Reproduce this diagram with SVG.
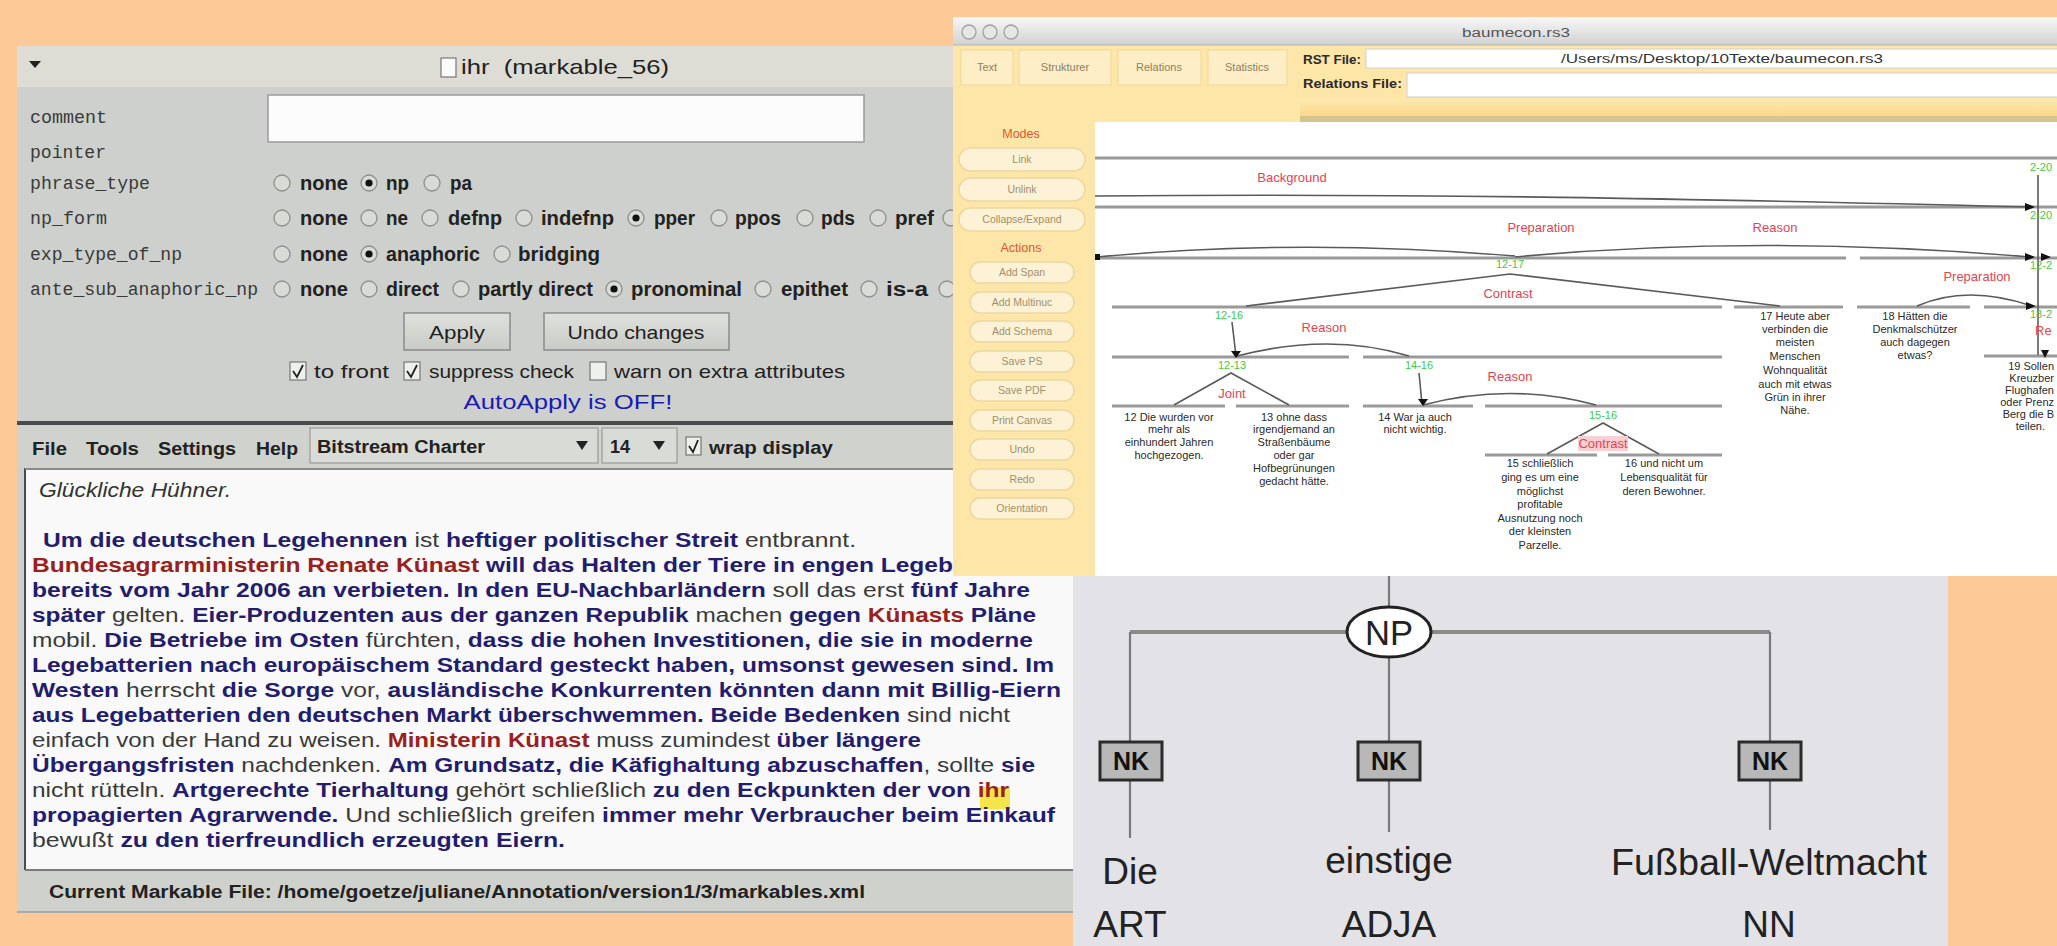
<svg xmlns="http://www.w3.org/2000/svg" width="2057" height="946" viewBox="0 0 2057 946">
<defs>
<linearGradient id="tbg" x1="0" y1="0" x2="0" y2="1"><stop offset="0" stop-color="#f7f7f7"/><stop offset="1" stop-color="#d2d2d2"/></linearGradient>
<linearGradient id="gold" x1="0" y1="0" x2="0" y2="1"><stop offset="0" stop-color="#fde8b0"/><stop offset="1" stop-color="#fbd98a"/></linearGradient>
<linearGradient id="btn" x1="0" y1="0" x2="0" y2="1"><stop offset="0" stop-color="#dfe1dd"/><stop offset="1" stop-color="#c9cbc7"/></linearGradient>
</defs>
<style>
.sans{font-family:"Liberation Sans",Arial,sans-serif}
.mono{font-family:"Liberation Mono","Courier New",monospace;font-size:18px;fill:#3a3a3a}
.opt{font-family:"Liberation Sans",Arial,sans-serif;font-weight:bold;font-size:20px;fill:#222}
.reg{font-family:"Liberation Sans",Arial,sans-serif;font-size:19px;fill:#222}
.rad{fill:#d9dbd7;stroke:#8d8f8b;stroke-width:1.3}
.dot{fill:#111}
.chk{fill:#eef0ec;stroke:#777;stroke-width:1.2}
.tick{fill:none;stroke:#222;stroke-width:1.8}
.tx{font-family:"Liberation Sans",Arial,sans-serif;font-size:20px}
.m{font-weight:bold;fill:#241c6c}
.r{font-weight:bold;fill:#9b2020}
.n{fill:#3a3a3a}
.tab{fill:#fdeec6;stroke:#ecd89c;stroke-width:1}
.tabt{font-family:"Liberation Sans",Arial,sans-serif;font-size:11px;fill:#8f7f60;text-anchor:middle}
.pill{fill:#fdf2d6;stroke:#ead7a2;stroke-width:1.5}
.pillt{font-family:"Liberation Sans",Arial,sans-serif;font-size:10.5px;fill:#a0906c;text-anchor:middle}
.hdr{font-family:"Liberation Sans",Arial,sans-serif;font-size:12.5px;fill:#e0562c;text-anchor:middle}
.span{stroke:#9a9a9a;stroke-width:3;fill:none}
.arc{stroke:#5a5a5a;stroke-width:1.6;fill:none}
.rel{font-family:"Liberation Sans",Arial,sans-serif;font-size:13px;fill:#e4434f;text-anchor:middle}
.grn{font-family:"Liberation Sans",Arial,sans-serif;font-size:11px;fill:#45c845;text-anchor:middle}
.seg{font-family:"Liberation Sans",Arial,sans-serif;font-size:11px;fill:#2a2a2a;text-anchor:middle}
.ah{fill:#111}
.edge{stroke:#7a7a7a;stroke-width:2.2;fill:none}
.nk{fill:#b8b8b8;stroke:#2b2b2b;stroke-width:3}
.nkt{font-family:"Liberation Sans",Arial,sans-serif;font-weight:bold;font-size:25px;fill:#111;text-anchor:middle}
.word{font-family:"Liberation Sans",Arial,sans-serif;font-size:37px;fill:#222;text-anchor:middle}
.end{text-anchor:end}
.start{text-anchor:start}
</style>

<rect x="0" y="0" width="2057" height="946" fill="#fdc997"/>

<!-- MMAX attribute window + text window -->
<g id="mmax-window">
<rect x="17" y="46" width="1056" height="867" fill="#cdd0cc"/>
<rect x="17" y="46" width="936" height="41" fill="#dddcd5"/>
<path d="M29,61 L41,61 L35,68 Z" fill="#222"/>
<rect x="441" y="58" width="15" height="19" fill="#fbfbfb" stroke="#777" stroke-width="1.2"/>
<text x="461" y="74" class="sans" font-size="21" fill="#222" textLength="208" lengthAdjust="spacingAndGlyphs">ihr&#160; (markable_56)</text>

<text x="30" y="123" class="mono" textLength="77" lengthAdjust="spacingAndGlyphs">comment</text>
<text x="30" y="158" class="mono" textLength="76" lengthAdjust="spacingAndGlyphs">pointer</text>
<text x="30" y="189" class="mono" textLength="120" lengthAdjust="spacingAndGlyphs">phrase_type</text>
<text x="30" y="224" class="mono" textLength="77" lengthAdjust="spacingAndGlyphs">np_form</text>
<text x="30" y="260" class="mono" textLength="152" lengthAdjust="spacingAndGlyphs">exp_type_of_np</text>
<text x="30" y="295" class="mono" textLength="228" lengthAdjust="spacingAndGlyphs">ante_sub_anaphoric_np</text>
<rect x="268" y="95" width="596" height="47" fill="#fbfcfb" stroke="#9a9a9a" stroke-width="1.5"/>

<!-- phrase_type -->
<circle class="rad" cx="282" cy="183" r="8"/><text class="opt" x="300" y="190" textLength="48" lengthAdjust="spacingAndGlyphs">none</text>
<circle class="rad" cx="369" cy="183" r="8"/><circle class="dot" cx="369" cy="183" r="3.6"/><text class="opt" x="386" y="190" textLength="23" lengthAdjust="spacingAndGlyphs">np</text>
<circle class="rad" cx="432" cy="183" r="8"/><text class="opt" x="450" y="190" textLength="22" lengthAdjust="spacingAndGlyphs">pa</text>
<!-- np_form -->
<circle class="rad" cx="282" cy="218" r="8"/><text class="opt" x="300" y="225" textLength="48" lengthAdjust="spacingAndGlyphs">none</text>
<circle class="rad" cx="369" cy="218" r="8"/><text class="opt" x="386" y="225" textLength="22" lengthAdjust="spacingAndGlyphs">ne</text>
<circle class="rad" cx="430" cy="218" r="8"/><text class="opt" x="448" y="225" textLength="54" lengthAdjust="spacingAndGlyphs">defnp</text>
<circle class="rad" cx="524" cy="218" r="8"/><text class="opt" x="541" y="225" textLength="73" lengthAdjust="spacingAndGlyphs">indefnp</text>
<circle class="rad" cx="636" cy="218" r="8"/><circle class="dot" cx="636" cy="218" r="3.6"/><text class="opt" x="654" y="225" textLength="41" lengthAdjust="spacingAndGlyphs">pper</text>
<circle class="rad" cx="719" cy="218" r="8"/><text class="opt" x="735" y="225" textLength="46" lengthAdjust="spacingAndGlyphs">ppos</text>
<circle class="rad" cx="805" cy="218" r="8"/><text class="opt" x="821" y="225" textLength="34" lengthAdjust="spacingAndGlyphs">pds</text>
<circle class="rad" cx="878" cy="218" r="8"/><text class="opt" x="895" y="225" textLength="39" lengthAdjust="spacingAndGlyphs">pref</text>
<circle class="rad" cx="951" cy="218" r="8"/>
<!-- exp_type_of_np -->
<circle class="rad" cx="282" cy="254" r="8"/><text class="opt" x="300" y="261" textLength="48" lengthAdjust="spacingAndGlyphs">none</text>
<circle class="rad" cx="369" cy="254" r="8"/><circle class="dot" cx="369" cy="254" r="3.6"/><text class="opt" x="386" y="261" textLength="94" lengthAdjust="spacingAndGlyphs">anaphoric</text>
<circle class="rad" cx="502" cy="254" r="8"/><text class="opt" x="518" y="261" textLength="82" lengthAdjust="spacingAndGlyphs">bridging</text>
<!-- ante_sub_anaphoric_np -->
<circle class="rad" cx="282" cy="289" r="8"/><text class="opt" x="300" y="296" textLength="48" lengthAdjust="spacingAndGlyphs">none</text>
<circle class="rad" cx="369" cy="289" r="8"/><text class="opt" x="386" y="296" textLength="53" lengthAdjust="spacingAndGlyphs">direct</text>
<circle class="rad" cx="461" cy="289" r="8"/><text class="opt" x="478" y="296" textLength="115" lengthAdjust="spacingAndGlyphs">partly direct</text>
<circle class="rad" cx="614" cy="289" r="8"/><circle class="dot" cx="614" cy="289" r="3.6"/><text class="opt" x="631" y="296" textLength="111" lengthAdjust="spacingAndGlyphs">pronominal</text>
<circle class="rad" cx="763" cy="289" r="8"/><text class="opt" x="781" y="296" textLength="67" lengthAdjust="spacingAndGlyphs">epithet</text>
<circle class="rad" cx="869" cy="289" r="8"/><text class="opt" x="886" y="296" textLength="42" lengthAdjust="spacingAndGlyphs">is-a</text>
<circle class="rad" cx="947" cy="289" r="8"/>

<rect x="404" y="313" width="106" height="37" fill="url(#btn)" stroke="#8a8a8a" stroke-width="1.5"/>
<text x="457" y="339" class="reg" text-anchor="middle" textLength="56" lengthAdjust="spacingAndGlyphs">Apply</text>
<rect x="544" y="313" width="185" height="37" fill="url(#btn)" stroke="#8a8a8a" stroke-width="1.5"/>
<text x="636" y="339" class="reg" text-anchor="middle" textLength="137" lengthAdjust="spacingAndGlyphs">Undo changes</text>

<rect class="chk" x="290" y="362" width="16" height="18"/><path class="tick" d="M293,371 L297,377 L303,365"/>
<text x="314" y="378" class="reg" textLength="75" lengthAdjust="spacingAndGlyphs">to front</text>
<rect class="chk" x="404" y="362" width="16" height="18"/><path class="tick" d="M407,371 L411,377 L417,365"/>
<text x="429" y="378" class="reg" textLength="145" lengthAdjust="spacingAndGlyphs">suppress check</text>
<rect class="chk" x="590" y="362" width="16" height="18"/>
<text x="614" y="378" class="reg" textLength="231" lengthAdjust="spacingAndGlyphs">warn on extra attributes</text>
<text x="568" y="409" class="sans" font-size="20" fill="#1c1cb4" text-anchor="middle" textLength="209" lengthAdjust="spacingAndGlyphs">AutoApply is OFF!</text>

<rect x="17" y="421" width="1056" height="4" fill="#4a4a4a"/>
<rect x="17" y="425" width="1056" height="43" fill="#d0d2ce"/>
<text x="32" y="455" class="sans" font-size="19" font-weight="bold" fill="#222" textLength="35" lengthAdjust="spacingAndGlyphs">File</text>
<text x="86" y="455" class="sans" font-size="19" font-weight="bold" fill="#222" textLength="53" lengthAdjust="spacingAndGlyphs">Tools</text>
<text x="158" y="455" class="sans" font-size="19" font-weight="bold" fill="#222" textLength="78" lengthAdjust="spacingAndGlyphs">Settings</text>
<text x="256" y="455" class="sans" font-size="19" font-weight="bold" fill="#222" textLength="42" lengthAdjust="spacingAndGlyphs">Help</text>
<rect x="310" y="428" width="288" height="35" fill="#d9dbd7" stroke="#9a9a9a" stroke-width="1.2"/>
<text x="317" y="453" class="sans" font-size="18" font-weight="bold" fill="#222" textLength="168" lengthAdjust="spacingAndGlyphs">Bitstream Charter</text>
<path d="M576,441 L588,441 L582,450 Z" fill="#222"/>
<rect x="602" y="428" width="75" height="35" fill="#d9dbd7" stroke="#9a9a9a" stroke-width="1.2"/>
<text x="610" y="453" class="sans" font-size="18" font-weight="bold" fill="#222">14</text>
<path d="M653,441 L665,441 L659,450 Z" fill="#222"/>
<rect class="chk" x="686" y="437" width="15" height="18"/><path class="tick" d="M689,446 L693,452 L698,440"/>
<text x="709" y="454" class="sans" font-size="19" font-weight="bold" fill="#222" textLength="124" lengthAdjust="spacingAndGlyphs">wrap display</text>

<rect x="25" y="468" width="1048" height="402" fill="#f8f9f8"/>
<line x1="25" y1="468" x2="25" y2="912" stroke="#4a4a4a" stroke-width="2"/>
<line x1="25" y1="469" x2="1073" y2="469" stroke="#8a8a8a" stroke-width="2"/>
<text x="39" y="497" class="sans" font-size="20" font-style="italic" fill="#333" textLength="192" lengthAdjust="spacingAndGlyphs">Glückliche Hühner.</text>

<rect x="980" y="787" width="30" height="22" fill="#f4e64a"/>
<text class="tx" x="43" y="547" textLength="813" lengthAdjust="spacingAndGlyphs"><tspan class="m">Um die deutschen Legehennen</tspan><tspan class="n"> ist </tspan><tspan class="m">heftiger politischer Streit</tspan><tspan class="n"> entbrannt.</tspan></text>
<text class="tx" x="32" y="572" textLength="921" lengthAdjust="spacingAndGlyphs"><tspan class="r">Bundesagrarministerin Renate Künast</tspan><tspan class="m"> will das Halten der Tiere in engen Legeb</tspan></text>
<text class="tx" x="32" y="597" textLength="998" lengthAdjust="spacingAndGlyphs"><tspan class="m">bereits vom Jahr 2006 an verbieten. In den EU-Nachbarländern</tspan><tspan class="n"> soll das erst </tspan><tspan class="m">fünf Jahre</tspan></text>
<text class="tx" x="32" y="622" textLength="1004" lengthAdjust="spacingAndGlyphs"><tspan class="m">später</tspan><tspan class="n"> gelten. </tspan><tspan class="m">Eier-Produzenten aus der ganzen Republik</tspan><tspan class="n"> machen </tspan><tspan class="m">gegen </tspan><tspan class="r">Künasts</tspan><tspan class="m"> Pläne</tspan></text>
<text class="tx" x="32" y="647" textLength="1001" lengthAdjust="spacingAndGlyphs"><tspan class="n">mobil. </tspan><tspan class="m">Die Betriebe im Osten</tspan><tspan class="n"> fürchten, </tspan><tspan class="m">dass die hohen Investitionen, die sie in moderne</tspan></text>
<text class="tx" x="32" y="672" textLength="1022" lengthAdjust="spacingAndGlyphs"><tspan class="m">Legebatterien nach europäischem Standard gesteckt haben, umsonst gewesen sind. Im</tspan></text>
<text class="tx" x="32" y="697" textLength="1029" lengthAdjust="spacingAndGlyphs"><tspan class="m">Westen</tspan><tspan class="n"> herrscht </tspan><tspan class="m">die Sorge</tspan><tspan class="n"> vor, </tspan><tspan class="m">ausländische Konkurrenten könnten dann mit Billig-Eiern</tspan></text>
<text class="tx" x="32" y="722" textLength="978" lengthAdjust="spacingAndGlyphs"><tspan class="m">aus Legebatterien den deutschen Markt überschwemmen. Beide Bedenken</tspan><tspan class="n"> sind nicht</tspan></text>
<text class="tx" x="32" y="747" textLength="889" lengthAdjust="spacingAndGlyphs"><tspan class="n">einfach von der Hand zu weisen. </tspan><tspan class="r">Ministerin Künast</tspan><tspan class="n"> muss zumindest </tspan><tspan class="m">über längere</tspan></text>
<text class="tx" x="32" y="772" textLength="1003" lengthAdjust="spacingAndGlyphs"><tspan class="m">Übergangsfristen</tspan><tspan class="n"> nachdenken. </tspan><tspan class="m">Am Grundsatz, die Käfighaltung abzuschaffen</tspan><tspan class="n">, sollte </tspan><tspan class="m">sie</tspan></text>
<text class="tx" x="32" y="797" textLength="977" lengthAdjust="spacingAndGlyphs"><tspan class="n">nicht rütteln. </tspan><tspan class="m">Artgerechte Tierhaltung</tspan><tspan class="n"> gehört schließlich </tspan><tspan class="m">zu den Eckpunkten der von </tspan><tspan class="r">ihr</tspan></text>
<text class="tx" x="32" y="822" textLength="1023" lengthAdjust="spacingAndGlyphs"><tspan class="m">propagierten Agrarwende.</tspan><tspan class="n"> Und schließlich greifen </tspan><tspan class="m">immer mehr Verbraucher beim Einkauf</tspan></text>
<text class="tx" x="32" y="847" textLength="533" lengthAdjust="spacingAndGlyphs"><tspan class="n">bewußt </tspan><tspan class="m">zu den tierfreundlich erzeugten Eiern.</tspan></text>

<rect x="17" y="870" width="1056" height="43" fill="#cfd1cd"/>
<line x1="25" y1="870" x2="1073" y2="870" stroke="#7a7a7a" stroke-width="2"/>
<line x1="17" y1="912" x2="1073" y2="912" stroke="#a9aba7" stroke-width="2"/>
<text x="49" y="898" class="sans" font-size="18" font-weight="bold" fill="#222" textLength="816" lengthAdjust="spacingAndGlyphs">Current Markable File: /home/goetze/juliane/Annotation/version1/3/markables.xml</text>
</g>

<!-- RST tool window -->
<g id="rst-window">
<rect x="953" y="17" width="1104" height="559" fill="#fde6a8"/>
<rect x="953" y="17" width="1104" height="28" fill="url(#tbg)"/>
<line x1="953" y1="45" x2="2057" y2="45" stroke="#b0b0b0" stroke-width="1"/>
<circle cx="969" cy="32" r="7" fill="#e6e6e6" stroke="#a0a0a0" stroke-width="1.3"/>
<circle cx="990" cy="32" r="7" fill="#e6e6e6" stroke="#a0a0a0" stroke-width="1.3"/>
<circle cx="1011" cy="32" r="7" fill="#e6e6e6" stroke="#a0a0a0" stroke-width="1.3"/>
<text x="1516" y="37" class="sans" font-size="12.5" fill="#555" text-anchor="middle" textLength="108" lengthAdjust="spacingAndGlyphs">baumecon.rs3</text>

<rect class="tab" x="961" y="50" width="52" height="35"/><text class="tabt" x="987" y="71">Text</text>
<rect class="tab" x="1019" y="50" width="92" height="35"/><text class="tabt" x="1065" y="71">Strukturer</text>
<rect class="tab" x="1118" y="50" width="83" height="35"/><text class="tabt" x="1159" y="71">Relations</text>
<rect class="tab" x="1208" y="50" width="79" height="35"/><text class="tabt" x="1247" y="71">Statistics</text>

<text x="1303" y="64" class="sans" font-size="12" font-weight="bold" fill="#2a2a2a" textLength="58" lengthAdjust="spacingAndGlyphs">RST File:</text>
<rect x="1366" y="49" width="700" height="19" fill="#ffffff" stroke="#cfcfcf" stroke-width="1"/>
<text x="1561" y="63" class="sans" font-size="12" fill="#333" textLength="322" lengthAdjust="spacingAndGlyphs">/Users/ms/Desktop/10Texte/baumecon.rs3</text>
<text x="1303" y="88" class="sans" font-size="12" font-weight="bold" fill="#2a2a2a" textLength="99" lengthAdjust="spacingAndGlyphs">Relations File:</text>
<rect x="1407" y="73" width="660" height="24" fill="#ffffff" stroke="#cfcfcf" stroke-width="1"/>
<rect x="1300" y="99" width="757" height="17" fill="url(#gold)"/>
<rect x="1300" y="116" width="757" height="6" fill="#d6c48e"/>

<rect x="1095" y="122" width="962" height="454" fill="#ffffff"/>

<text class="hdr" x="1021" y="138">Modes</text>
<rect class="pill" x="959" y="148" width="126" height="23" rx="11.5"/><text class="pillt" x="1022" y="163">Link</text>
<rect class="pill" x="959" y="178" width="126" height="23" rx="11.5"/><text class="pillt" x="1022" y="193">Unlink</text>
<rect class="pill" x="959" y="208" width="126" height="23" rx="11.5"/><text class="pillt" x="1022" y="223">Collapse/Expand</text>
<text class="hdr" x="1021" y="252">Actions</text>
<rect class="pill" x="970" y="262" width="104" height="21" rx="10.5"/><text class="pillt" x="1022" y="276">Add Span</text>
<rect class="pill" x="970" y="292" width="104" height="21" rx="10.5"/><text class="pillt" x="1022" y="306">Add Multinuc</text>
<rect class="pill" x="970" y="321" width="104" height="21" rx="10.5"/><text class="pillt" x="1022" y="335">Add Schema</text>
<rect class="pill" x="970" y="351" width="104" height="21" rx="10.5"/><text class="pillt" x="1022" y="365">Save PS</text>
<rect class="pill" x="970" y="380" width="104" height="21" rx="10.5"/><text class="pillt" x="1022" y="394">Save PDF</text>
<rect class="pill" x="970" y="410" width="104" height="21" rx="10.5"/><text class="pillt" x="1022" y="424">Print Canvas</text>
<rect class="pill" x="970" y="439" width="104" height="21" rx="10.5"/><text class="pillt" x="1022" y="453">Undo</text>
<rect class="pill" x="970" y="469" width="104" height="21" rx="10.5"/><text class="pillt" x="1022" y="483">Redo</text>
<rect class="pill" x="970" y="498" width="104" height="21" rx="10.5"/><text class="pillt" x="1022" y="512">Orientation</text>

<!-- RST tree connectors -->
<g id="rst-connectors">
<line class="span" x1="1095" y1="158" x2="2057" y2="158"/>
<line class="span" x1="1095" y1="207" x2="2057" y2="207"/>
<line class="span" x1="1095" y1="258" x2="1846" y2="258"/>
<line class="span" x1="1860" y1="258" x2="2057" y2="258"/>
<line class="span" x1="1112" y1="307" x2="1722" y2="307"/>
<line class="span" x1="1734" y1="307" x2="1843" y2="307"/>
<line class="span" x1="1857" y1="307" x2="1970" y2="307"/>
<line class="span" x1="1984" y1="307" x2="2057" y2="307"/>
<line class="span" x1="1984" y1="356" x2="2057" y2="356"/>
<line class="span" x1="1112" y1="357" x2="1349" y2="357"/>
<line class="span" x1="1363" y1="357" x2="1722" y2="357"/>
<line class="span" x1="1112" y1="406" x2="1225" y2="406"/>
<line class="span" x1="1236" y1="406" x2="1349" y2="406"/>
<line class="span" x1="1363" y1="406" x2="1473" y2="406"/>
<line class="span" x1="1485" y1="406" x2="1722" y2="406"/>
<line class="span" x1="1485" y1="455" x2="1597" y2="455"/>
<line class="span" x1="1608" y1="455" x2="1722" y2="455"/>

<path class="arc" d="M1095,196 C1420,193 1700,199 2030,207"/>
<path class="arc" d="M1097,257 Q1300,238 1515,256"/>
<path class="arc" d="M2030,257 Q1760,234 1515,257"/>
<path class="arc" d="M1917,306 Q1967,284 2032,306"/>
<line class="arc" x1="2038" y1="175" x2="2038" y2="355"/>
<path class="arc" d="M1246,306 L1510,274 L1780,306"/>
<line class="arc" x1="1232" y1="322" x2="1236" y2="356"/>
<path class="arc" d="M1409,356 Q1330,332 1237,356"/>
<path class="arc" d="M1174,405 L1231,373 L1289,405"/>
<line class="arc" x1="1419" y1="373" x2="1422" y2="404"/>
<path class="arc" d="M1596,405 Q1510,382 1423,405"/>
<path class="arc" d="M1547,454 L1603,423 L1659,454"/>

<path class="ah" d="M2025,203 L2035,207 L2025,211 Z"/>
<path class="ah" d="M2025,253 L2035,257 L2025,261 Z"/>
<path class="ah" d="M2041,253 L2051,257 L2041,261 Z"/>
<path class="ah" d="M2026,302 L2036,306 L2026,310 Z"/>
<path class="ah" d="M2041,350 L2045,358 L2049,350 Z"/>
<rect class="ah" x="1095" y="254" width="5" height="6"/>
<path class="ah" d="M1231,351 L1241,351 L1236,358 Z"/>
<path class="ah" d="M1418,399 L1428,399 L1423,406 Z"/>
</g>

<!-- RST labels -->
<text class="rel" x="1292" y="182">Background</text>
<text class="rel" x="1541" y="232">Preparation</text>
<text class="rel" x="1775" y="232">Reason</text>
<text class="rel" x="1508" y="298">Contrast</text>
<text class="rel" x="1324" y="332">Reason</text>
<text class="rel" x="1232" y="398">Joint</text>
<text class="rel" x="1510" y="381">Reason</text>
<rect x="1578" y="436" width="50" height="15" fill="#fbd0d5"/>
<text class="rel" x="1603" y="448">Contrast</text>
<text class="rel" x="1977" y="281">Preparation</text>
<text class="rel start" x="2035" y="335">Re</text>

<text class="grn" x="2041" y="171">2-20</text>
<text class="grn" x="2041" y="219">2-20</text>
<text class="grn" x="2041" y="269">12-2</text>
<text class="grn" x="2041" y="318">18-2</text>
<text class="grn" x="1510" y="268">12-17</text>
<text class="grn" x="1229" y="319">12-16</text>
<text class="grn" x="1232" y="369">12-13</text>
<text class="grn" x="1419" y="369">14-16</text>
<text class="grn" x="1603" y="419">15-16</text>

<text class="seg" x="1169" y="421">12 Die wurden vor</text>
<text class="seg" x="1169" y="433">mehr als</text>
<text class="seg" x="1169" y="446">einhundert Jahren</text>
<text class="seg" x="1169" y="459">hochgezogen.</text>

<text class="seg" x="1294" y="421">13 ohne dass</text>
<text class="seg" x="1294" y="433">irgendjemand an</text>
<text class="seg" x="1294" y="446">Straßenbäume</text>
<text class="seg" x="1294" y="459">oder gar</text>
<text class="seg" x="1294" y="472">Hofbegrünungen</text>
<text class="seg" x="1294" y="485">gedacht hätte.</text>

<text class="seg" x="1415" y="421">14 War ja auch</text>
<text class="seg" x="1415" y="433">nicht wichtig.</text>

<text class="seg" x="1540" y="467">15 schließlich</text>
<text class="seg" x="1540" y="481">ging es um eine</text>
<text class="seg" x="1540" y="495">möglichst</text>
<text class="seg" x="1540" y="508">profitable</text>
<text class="seg" x="1540" y="522">Ausnutzung noch</text>
<text class="seg" x="1540" y="535">der kleinsten</text>
<text class="seg" x="1540" y="549">Parzelle.</text>

<text class="seg" x="1664" y="467">16 und nicht um</text>
<text class="seg" x="1664" y="481">Lebensqualität für</text>
<text class="seg" x="1664" y="495">deren Bewohner.</text>

<text class="seg" x="1795" y="320">17 Heute aber</text>
<text class="seg" x="1795" y="333">verbinden die</text>
<text class="seg" x="1795" y="346">meisten</text>
<text class="seg" x="1795" y="360">Menschen</text>
<text class="seg" x="1795" y="374">Wohnqualität</text>
<text class="seg" x="1795" y="388">auch mit etwas</text>
<text class="seg" x="1795" y="401">Grün in ihrer</text>
<text class="seg" x="1795" y="414">Nähe.</text>

<text class="seg" x="1915" y="320">18 Hätten die</text>
<text class="seg" x="1915" y="333">Denkmalschützer</text>
<text class="seg" x="1915" y="346">auch dagegen</text>
<text class="seg" x="1915" y="359">etwas?</text>

<text class="seg end" x="2054" y="370">19 Sollen</text>
<text class="seg end" x="2054" y="382">Kreuzber</text>
<text class="seg end" x="2054" y="394">Flughafen</text>
<text class="seg end" x="2054" y="406">oder Prenz</text>
<text class="seg end" x="2054" y="418">Berg die B</text>
<text class="seg end" x="2045" y="430">teilen.</text>
</g>

<!-- Syntax tree (TIGER) -->
<g id="np-tree">
<rect x="1073" y="576" width="875" height="370" fill="#e3e2e6"/>
<g id="np-edges">
<line class="edge" x1="1389" y1="576" x2="1389" y2="607"/>
<line x1="1130" y1="632" x2="1770" y2="632" stroke="#8a8a8a" stroke-width="4"/>
<line class="edge" x1="1130" y1="632" x2="1130" y2="742"/>
<line class="edge" x1="1389" y1="657" x2="1389" y2="742"/>
<line class="edge" x1="1770" y1="632" x2="1770" y2="742"/>
<line class="edge" x1="1130" y1="780" x2="1130" y2="838"/>
<line class="edge" x1="1389" y1="780" x2="1389" y2="832"/>
<line class="edge" x1="1770" y1="780" x2="1770" y2="830"/>
</g>
<g id="node-np">
<ellipse cx="1389" cy="632" rx="42" ry="25" fill="#ffffff" stroke="#222" stroke-width="3"/>
<text x="1389" y="645" class="sans" font-size="35" fill="#222" text-anchor="middle" textLength="48" lengthAdjust="spacingAndGlyphs">NP</text>
</g>
<g id="node-nk1"><rect class="nk" x="1100" y="742" width="62" height="38"/><text class="nkt" x="1131" y="770">NK</text></g>
<g id="node-nk2"><rect class="nk" x="1358" y="742" width="62" height="38"/><text class="nkt" x="1389" y="770">NK</text></g>
<g id="node-nk3"><rect class="nk" x="1739" y="742" width="62" height="38"/><text class="nkt" x="1770" y="770">NK</text></g>
<g id="word-die"><text class="word" x="1130" y="884">Die</text><text class="word" x="1130" y="937">ART</text></g>
<g id="word-einstige"><text class="word" x="1389" y="873">einstige</text><text class="word" x="1389" y="937">ADJA</text></g>
<g id="word-fussball"><text class="word" x="1769" y="875" textLength="316" lengthAdjust="spacingAndGlyphs">Fußball-Weltmacht</text><text class="word" x="1769" y="937">NN</text></g>
</g>
</svg>
